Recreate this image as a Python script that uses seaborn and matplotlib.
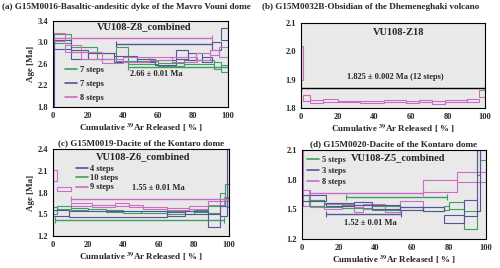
import numpy as np
import matplotlib
matplotlib.use("Agg")
import matplotlib.pyplot as plt
from matplotlib.lines import Line2D
import seaborn as sns

# ---- colours ----
GREEN = "#3f9f62"
BLUE = "#55559c"
PINK = "#cc6cc6"

# ---- (a) VU108-Z8_combined ----
a_green_edges = [0, 0.5, 10.5, 25, 36, 43, 60, 75, 92, 96, 100]
a_green_age = [2.71, 3.07, 2.875, 2.75, 2.79, 2.63, 2.595, 2.64, 2.565, 2.515]
a_green_err = [0.44, 0.09, 0.045, 0.05, 0.13, 0.03, 0.025, 0.04, 0.065, 0.065]
a_blue_edges = [0, 0.5, 10, 20, 35, 48, 58, 70, 77, 85, 91, 96, 100]
a_blue_age = [2.4, 2.955, 2.78, 2.75, 2.695, 2.67, 2.625, 2.78, 2.735, 2.685, 2.935, 3.15]
a_blue_err = [0.6, 0.085, 0.08, 0.05, 0.055, 0.03, 0.045, 0.08, 0.065, 0.045, 0.075, 0.11]
a_pink_edges = [0, 7, 16, 28, 40, 55, 68, 82, 90, 95, 100]
a_pink_age = [3.105, 2.89, 2.765, 2.655, 2.685, 2.70, 2.675, 2.735, 2.815, 2.825]
a_pink_err = [0.075, 0.06, 0.065, 0.045, 0.045, 0.03, 0.045, 0.065, 0.045, 0.095]
a_plateaus = [(GREEN, 42.9, 100, 2.54), (BLUE, 35.8, 91, 2.97), (PINK, 0, 91, 3.09)]
a_labels = ["7 steps", "7 steps", "8 steps"]

# ---- (b) VU108-Z18 ----
b_pink_edges = [0, 1.2, 5, 12, 20, 32, 45, 57, 64, 71, 78, 90, 97, 100]
b_pink_age = [1.96, 1.836, 1.8225, 1.827, 1.823, 1.822, 1.8245, 1.822, 1.825,
              1.8205, 1.825, 1.8275, 1.8525]
b_pink_err = [0.06, 0.01, 0.0055, 0.005, 0.003, 0.004, 0.0035, 0.004, 0.005,
              0.0055, 0.005, 0.0055, 0.0125]
b_plateaus = [("black", 0, 100, 1.870)]

# ---- (c) VU108-Z6_combined ----
c_pink_edges = [0, 2, 10, 22, 35, 43, 51, 65, 77, 88, 97, 100]
c_pink_age = [2.035, 1.845, 1.64, 1.615, 1.635, 1.615, 1.585, 1.575, 1.595, 1.655, 1.71]
c_pink_err = [0.07, 0.025, 0.02, 0.015, 0.015, 0.015, 0.015, 0.015, 0.015, 0.025, 0.03]
c_green_edges = [0, 2, 10, 20, 30, 40, 50, 65, 80, 88, 95, 98, 100]
c_green_age = [1.55, 1.595, 1.575, 1.565, 1.545, 1.535, 1.535, 1.525, 1.545, 1.57, 1.71, 1.82]
c_green_err = [0.05, 0.025, 0.015, 0.015, 0.015, 0.015, 0.015, 0.015, 0.015, 0.05, 0.09, 0.10]
c_blue_edges = [0, 9, 65, 75, 88, 95, 99, 100]
c_blue_age = [1.52, 1.51, 1.505, 1.525, 1.415, 1.55, 2.0]
c_blue_err = [0.04, 0.04, 0.025, 0.025, 0.085, 0.07, 0.4]
c_plateaus = [(PINK, 10, 100, 1.71), (GREEN, 1, 97, 1.42)]
c_labels = ["4 steps", "10 steps", "9 steps"]

# ---- (d) VU108-Z5_combined ----
d_pink_edges = [0, 0.5, 4.5, 12, 22, 28, 33, 45, 53, 66, 84, 100]
d_pink_age = [1.95, 1.615, 1.56, 1.525, 1.53, 1.495, 1.525, 1.50, 1.55, 1.74, 1.83]
d_pink_err = [0.3, 0.085, 0.04, 0.025, 0.02, 0.025, 0.025, 0.03, 0.03, 0.06, 0.05]
d_green_edges = [0, 4, 12, 22, 38, 53, 66, 77, 80, 88, 95, 97, 100]
d_green_age = [1.615, 1.565, 1.54, 1.525, 1.51, 1.505, 1.50, 1.51, 1.535, 1.39, 1.975, 2.1]
d_green_err = [0.035, 0.035, 0.02, 0.015, 0.02, 0.015, 0.02, 0.02, 0.035, 0.09, 0.125, 0.1]
d_blue_edges = [0, 13, 28, 38, 53, 66, 77, 88, 95, 97]
d_blue_age = [1.615, 1.545, 1.555, 1.52, 1.505, 1.50, 1.40, 1.515, 1.79]
d_blue_err = [0.035, 0.015, 0.015, 0.02, 0.015, 0.02, 0.04, 0.085, 0.31]
d_plateaus = [(PINK, 4, 66, 1.67), (GREEN, 24, 79, 1.63), (BLUE, 13, 54, 1.45)]
d_labels = ["5 steps", "3 steps", "8 steps"]

sns.set_theme(style="white")
plt.rcParams["font.family"] = ["Liberation Serif", "DejaVu Serif"]
plt.rcParams["font.weight"] = "bold"
plt.rcParams["mathtext.fontset"] = "stix"

fig = plt.figure(figsize=(5.0, 2.68), dpi=100)
ax_a = fig.add_axes([0.106, 0.601, 0.350, 0.321])
ax_b = fig.add_axes([0.602, 0.597, 0.368, 0.317])
ax_c = fig.add_axes([0.106, 0.119, 0.352, 0.325])
ax_d = fig.add_axes([0.604, 0.108, 0.368, 0.332])


def draw_spectrum(ax, edges, ages, errs, color):
    edges = np.asarray(edges, dtype=float)
    ages = np.asarray(ages)
    errs = np.asarray(errs)
    ax.bar(edges[:-1], 2 * errs, width=np.diff(edges), bottom=ages - errs,
           align="edge", fill=False, edgecolor=color, linewidth=0.8)


def draw_plateau(ax, color, x0, x1, y):
    ax.errorbar([(x0 + x1) / 2], [y], xerr=[(x1 - x0) / 2], fmt="none",
                ecolor=color, elinewidth=1.0, capsize=2, capthick=0.8)


def style_axes(ax, ylim, yticks, ylabel=True):
    ax.set_facecolor("#e9e9e9")
    ax.set_xlim(0, 100)
    ax.set_ylim(*ylim)
    ax.set_xticks([0, 20, 40, 60, 80, 100])
    ax.set_yticks(yticks)
    ax.set_yticklabels([f"{t:.1f}" for t in yticks])
    ax.tick_params(labelsize=6, length=2, width=0.6, pad=1.5, direction="out")
    for s in ax.spines.values():
        s.set_color("black")
        s.set_linewidth(0.8)
    ax.set_xlabel(r"Cumulative $^{\mathbf{39}}$Ar Released [ % ]",
                  fontsize=6.5, fontweight="bold", labelpad=1.5)
    if ylabel:
        ax.set_ylabel("Age [Ma]", fontsize=6.5, fontweight="bold", labelpad=2)


def add_legend(ax, labels, colors, loc, spacing):
    handles = [Line2D([0], [0], color=c, lw=1.2) for c in colors]
    ax.legend(handles, labels, loc="upper left", bbox_to_anchor=loc, frameon=False,
              fontsize=6, handlelength=1.45, handletextpad=0.3, labelspacing=spacing,
              borderaxespad=0)


# (a)
draw_spectrum(ax_a, a_green_edges, a_green_age, a_green_err, GREEN)
draw_spectrum(ax_a, a_blue_edges, a_blue_age, a_blue_err, BLUE)
draw_spectrum(ax_a, a_pink_edges, a_pink_age, a_pink_err, PINK)
for col, x0, x1, y in a_plateaus:
    draw_plateau(ax_a, col, x0, x1, y)
style_axes(ax_a, (1.8, 3.4), [1.8, 2.2, 2.6, 3.0, 3.4])
add_legend(ax_a, a_labels, [GREEN, BLUE, PINK], (0.05, 0.515), 0.7)
ax_a.text(52, 3.29, "VU108-Z8_combined", ha="center", va="center", fontsize=7.5, fontweight="bold")
ax_a.text(59, 2.41, "2.66 ± 0.01 Ma", ha="center", va="center", fontsize=6, fontweight="bold")
fig.text(0.004, 0.975, "(a) G15M0016-Basaltic-andesitic dyke of the Mavro Vouni dome",
         ha="left", va="center", fontsize=6.6, fontweight="bold")

# (b)
draw_spectrum(ax_b, b_pink_edges, b_pink_age, b_pink_err, PINK)
for col, x0, x1, y in b_plateaus:
    draw_plateau(ax_b, col, x0, x1, y)
style_axes(ax_b, (1.8, 2.1), [1.8, 1.9, 2.0, 2.1], ylabel=False)
ax_b.text(53, 2.068, "VU108-Z18", ha="center", va="center", fontsize=7.5, fontweight="bold")
ax_b.text(51, 1.911, "1.825 ± 0.002 Ma (12 steps)", ha="center", va="center",
          fontsize=6, fontweight="bold")
fig.text(0.524, 0.975, "(b) G15M0032B-Obsidian of the Dhemeneghaki volcano",
         ha="left", va="center", fontsize=6.6, fontweight="bold")

# (c)
draw_spectrum(ax_c, c_pink_edges, c_pink_age, c_pink_err, PINK)
draw_spectrum(ax_c, c_green_edges, c_green_age, c_green_err, GREEN)
draw_spectrum(ax_c, c_blue_edges, c_blue_age, c_blue_err, BLUE)
for col, x0, x1, y in c_plateaus:
    draw_plateau(ax_c, col, x0, x1, y)
style_axes(ax_c, (1.2, 2.4), [1.2, 1.5, 1.8, 2.1, 2.4])
add_legend(ax_c, c_labels, [BLUE, GREEN, PINK], (0.11, 0.855), 0.15)
ax_c.text(51, 2.29, "VU108-Z6_combined", ha="center", va="center", fontsize=7.5, fontweight="bold")
ax_c.text(60, 1.86, "1.55 ± 0.01 Ma", ha="center", va="center", fontsize=6, fontweight="bold")
ax_c.set_title("(c) G15M0019-Dacite of the Kontaro dome", fontsize=6.6,
               fontweight="bold", pad=3)

# (d)
draw_spectrum(ax_d, d_pink_edges, d_pink_age, d_pink_err, PINK)
draw_spectrum(ax_d, d_green_edges, d_green_age, d_green_err, GREEN)
draw_spectrum(ax_d, d_blue_edges, d_blue_age, d_blue_err, BLUE)
for col, x0, x1, y in d_plateaus:
    draw_plateau(ax_d, col, x0, x1, y)
style_axes(ax_d, (1.2, 2.1), [1.2, 1.5, 1.8, 2.1], ylabel=False)
add_legend(ax_d, d_labels, [GREEN, BLUE, PINK], (0.011, 0.97), 0.35)
ax_d.text(52, 2.02, "VU108-Z5_combined", ha="center", va="center", fontsize=7.5, fontweight="bold")
ax_d.text(37, 1.36, "1.52 ± 0.01 Ma", ha="center", va="center", fontsize=6, fontweight="bold")
ax_d.set_title("(d) G15M0020-Dacite of the Kontaro dome", fontsize=6.6,
               fontweight="bold", pad=3)

fig.savefig("out.png", dpi=100)
